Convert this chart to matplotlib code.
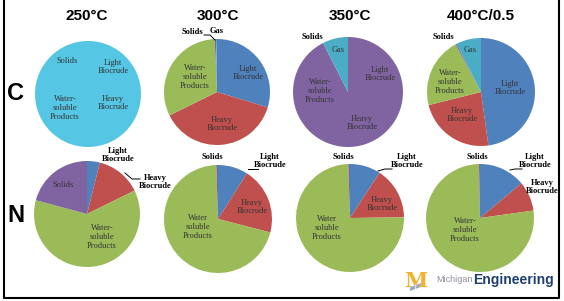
import matplotlib.pyplot as plt
import numpy as np

W, H = 564, 301

# colours (office palette)
blue, red, green, purple, cyan = '#4F81BD', '#C0504D', '#9BBB59', '#8064A2', '#4BACC6'

titles = ['250°C', '300°C', '350°C', '400°C/0.5']
rows = ['C', 'N']

# C row: Light, Heavy, Water-soluble, Solids, Gas
c250 = [100.0]
c300 = [29.7, 38.0, 31.6, 0.4, 0.3]
c350 = [92.5, 7.5]
c400 = [47.8, 23.3, 21.1, 0.4, 7.4]
# N row: Light, Heavy, Water-soluble, Solids
n250 = [3.9, 13.8, 61.5, 20.8]
n300 = [9.0, 20.0, 70.5, 0.5]
n350 = [9.2, 15.6, 74.7, 0.5]
n400 = [13.9, 8.9, 76.9, 0.3]

fig = plt.figure(figsize=(W / 100, H / 100), dpi=100)
ax = fig.add_axes([0, 0, 1, 1])

def Y(y):
    return H - y

def pie(vals, cols, cx, cy, r):
    ax.pie(vals, colors=cols, center=(cx, Y(cy)), radius=r, startangle=90,
           counterclock=False, frame=True, wedgeprops=dict(linewidth=0))

pie(c250, ['#55C6E4'], 88, 94, 53)
pie(c300, [blue, red, green, purple, cyan], 217, 92, 53)
pie(c350, [purple, cyan], 348, 92, 55)
pie(c400, [blue, red, green, purple, cyan], 481, 92, 54)
pie(n250, [blue, red, green, purple], 87, 214, 53)
pie(n300, [blue, red, green, purple], 218, 219, 54)
pie(n350, [blue, red, green, purple], 350, 218, 54)
pie(n400, [blue, red, green, purple], 480, 218, 54)

ax.set_xlim(0, W)
ax.set_ylim(0, H)
ax.set_aspect('equal')
ax.axis('off')

# titles and row labels
for t, x in zip(titles, [87, 218, 350, 481]):
    ax.text(x, Y(16), t, ha='center', va='center', fontsize=11,
            fontweight='bold', family='Liberation Sans')
for t, y in zip(rows, [94, 216]):
    ax.text(16, Y(y), t, ha='center', va='center', fontsize=17,
            fontweight='bold', family='Liberation Sans')

inner = dict(ha='center', va='center', fontsize=6, family='Liberation Serif',
             color='#333333', linespacing=1.1)
outer = dict(ha='center', va='center', fontsize=6, family='Liberation Serif',
             color='black', fontweight='bold', linespacing=1.0)

lab_in = [
    ('Solids', 67, 61), ('Light\nBiocrude', 113, 67),
    ('Water-\nsoluble\nProducts', 65, 108), ('Heavy\nBiocrude', 113, 103),
    ('Light\nBiocrude', 248, 73), ('Water-\nsoluble\nProducts', 195, 77),
    ('Heavy\nBiocrude', 222, 124),
    ('Light\nBiocrude', 380, 74), ('Water-\nsoluble\nProducts', 320, 91),
    ('Heavy\nBiocrude', 362, 123), ('Gas', 338, 50),
    ('Light\nBiocrude', 510, 88), ('Heavy\nBiocrude', 462, 115),
    ('Water-\nsoluble\nProducts', 450, 82), ('Gas', 470, 50),
    ('Solids', 63, 185), ('Water-\nsoluble\nProducts', 102, 237),
    ('Heavy\nBiocrude', 252, 207), ('Water\nsoluble\nProducts', 198, 227),
    ('Heavy\nBiocrude', 382, 204), ('Water\nsoluble\nProducts', 327, 228),
    ('Water-\nsoluble\nProducts', 465, 230),
]
for t, x, y in lab_in:
    ax.text(x, Y(y), t, **inner)

lab_out = [
    ('Solids', 192, 32), ('Gas', 217, 31), ('Solids', 312, 37), ('Solids', 443, 37),
    ('Light\nBiocrude', 118, 155), ('Heavy\nBiocrude', 155, 182),
    ('Solids', 212, 157), ('Light\nBiocrude', 270, 161),
    ('Solids', 343, 157), ('Light\nBiocrude', 407, 161),
    ('Solids', 477, 157), ('Light\nBiocrude', 535, 161), ('Heavy\nBiocrude', 542, 187),
]
for t, x, y in lab_out:
    ax.text(x, Y(y), t, **outer)

# leader lines
leaders = [
    ([204, 210, 215], [35, 35, 40]),
    ([125, 132, 140], [173, 179, 179]),
    ([248, 253, 258], [169, 169, 169]),
    ([378, 385, 392], [171, 169, 169]),
    ([510, 515, 522], [170, 169, 169]),
]
for xs, ys in leaders:
    ax.plot(xs, [Y(v) for v in ys], color='black', lw=0.7)

# border
ax.plot([4, 4, 559, 559], [Y(0), Y(298), Y(298), Y(0)], color='black', lw=1.5)

# logo
ax.text(416, Y(287), '▰▰', ha='center', va='center', fontsize=7,
        family='DejaVu Sans', color='#9AA7C2', rotation=20)
ax.text(416, Y(281), 'M', ha='center', va='center', fontsize=15, fontweight='bold',
        family='DejaVu Serif', color='#F2B12E')
mich = ax.text(436, Y(280), 'Michigan', ha='left', va='center', fontsize=6.5,
               family='Liberation Sans', color='#8A8F99')
fig.canvas.draw()
bb = mich.get_window_extent()
ax.text(bb.x1 + 1, Y(280), 'Engineering', ha='left', va='center', fontsize=10,
        family='Liberation Sans', fontweight='bold', color='#1F3F73')

fig.savefig('out.png', dpi=100)
